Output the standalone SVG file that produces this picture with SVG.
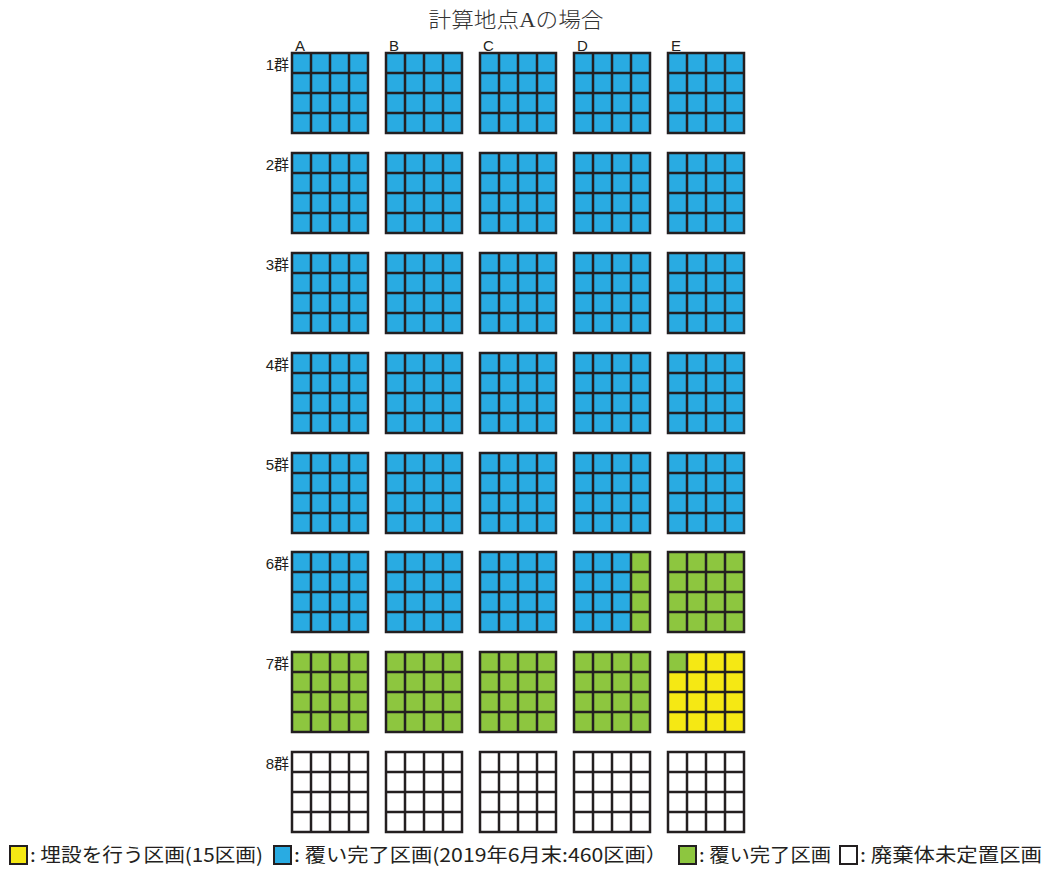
<svg xmlns="http://www.w3.org/2000/svg" xmlns:xlink="http://www.w3.org/1999/xlink" width="1047" height="869" viewBox="0 0 1047 869">
<style>
.b{fill:#29abe2}.g{fill:#8dc63f}.y{fill:#f5e814}.w{fill:#ffffff}
.grid{fill:none;stroke:#231f20;stroke-width:2.5}
.lbl{font-family:"Liberation Sans","Noto Sans CJK JP",sans-serif;font-size:15px;fill:#231f20}
.col{font-family:"Liberation Sans",sans-serif;font-size:15px;fill:#231f20}
.title{font-family:"Liberation Serif","Noto Sans CJK JP",serif;font-size:21px;fill:#333;font-weight:300}
.leg{font-family:"Noto Sans CJK JP",sans-serif;font-size:19px;fill:#231f20}
.sq{stroke:#231f20;stroke-width:2}
</style>
<defs>
<path id="grid" class="grid" d="M0,0H76V80H0Z M19,0V80 M38,0V80 M57,0V80 M0,20H76 M0,40H76 M0,60H76"/>
</defs>
<rect width="1047" height="869" fill="#ffffff"/>
<text class="title" x="516" y="27" text-anchor="middle" textLength="175" lengthAdjust="spacingAndGlyphs">計算地点Aの場合</text>
<g id="col-labels">
<text class="col" x="295" y="51">A</text>
<text class="col" x="389" y="51">B</text>
<text class="col" x="483" y="51">C</text>
<text class="col" x="577" y="51">D</text>
<text class="col" x="671" y="51">E</text>
</g>
<g id="row-labels">
<text class="lbl" x="289" y="70" text-anchor="end">1群</text>
<text class="lbl" x="289" y="170" text-anchor="end">2群</text>
<text class="lbl" x="289" y="270" text-anchor="end">3群</text>
<text class="lbl" x="289" y="370" text-anchor="end">4群</text>
<text class="lbl" x="289" y="470" text-anchor="end">5群</text>
<text class="lbl" x="289" y="569" text-anchor="end">6群</text>
<text class="lbl" x="289" y="669" text-anchor="end">7群</text>
<text class="lbl" x="289" y="769" text-anchor="end">8群</text>
</g>
<g id="r1A" transform="translate(292,53)"><rect class="b" width="76" height="80"/><use href="#grid"/></g>
<g id="r1B" transform="translate(386,53)"><rect class="b" width="76" height="80"/><use href="#grid"/></g>
<g id="r1C" transform="translate(480,53)"><rect class="b" width="76" height="80"/><use href="#grid"/></g>
<g id="r1D" transform="translate(574,53)"><rect class="b" width="76" height="80"/><use href="#grid"/></g>
<g id="r1E" transform="translate(668,53)"><rect class="b" width="76" height="80"/><use href="#grid"/></g>
<g id="r2A" transform="translate(292,153)"><rect class="b" width="76" height="80"/><use href="#grid"/></g>
<g id="r2B" transform="translate(386,153)"><rect class="b" width="76" height="80"/><use href="#grid"/></g>
<g id="r2C" transform="translate(480,153)"><rect class="b" width="76" height="80"/><use href="#grid"/></g>
<g id="r2D" transform="translate(574,153)"><rect class="b" width="76" height="80"/><use href="#grid"/></g>
<g id="r2E" transform="translate(668,153)"><rect class="b" width="76" height="80"/><use href="#grid"/></g>
<g id="r3A" transform="translate(292,253)"><rect class="b" width="76" height="80"/><use href="#grid"/></g>
<g id="r3B" transform="translate(386,253)"><rect class="b" width="76" height="80"/><use href="#grid"/></g>
<g id="r3C" transform="translate(480,253)"><rect class="b" width="76" height="80"/><use href="#grid"/></g>
<g id="r3D" transform="translate(574,253)"><rect class="b" width="76" height="80"/><use href="#grid"/></g>
<g id="r3E" transform="translate(668,253)"><rect class="b" width="76" height="80"/><use href="#grid"/></g>
<g id="r4A" transform="translate(292,353)"><rect class="b" width="76" height="80"/><use href="#grid"/></g>
<g id="r4B" transform="translate(386,353)"><rect class="b" width="76" height="80"/><use href="#grid"/></g>
<g id="r4C" transform="translate(480,353)"><rect class="b" width="76" height="80"/><use href="#grid"/></g>
<g id="r4D" transform="translate(574,353)"><rect class="b" width="76" height="80"/><use href="#grid"/></g>
<g id="r4E" transform="translate(668,353)"><rect class="b" width="76" height="80"/><use href="#grid"/></g>
<g id="r5A" transform="translate(292,453)"><rect class="b" width="76" height="80"/><use href="#grid"/></g>
<g id="r5B" transform="translate(386,453)"><rect class="b" width="76" height="80"/><use href="#grid"/></g>
<g id="r5C" transform="translate(480,453)"><rect class="b" width="76" height="80"/><use href="#grid"/></g>
<g id="r5D" transform="translate(574,453)"><rect class="b" width="76" height="80"/><use href="#grid"/></g>
<g id="r5E" transform="translate(668,453)"><rect class="b" width="76" height="80"/><use href="#grid"/></g>
<g id="r6A" transform="translate(292,552)"><rect class="b" width="76" height="80"/><use href="#grid"/></g>
<g id="r6B" transform="translate(386,552)"><rect class="b" width="76" height="80"/><use href="#grid"/></g>
<g id="r6C" transform="translate(480,552)"><rect class="b" width="76" height="80"/><use href="#grid"/></g>
<g id="r6D" transform="translate(574,552)"><rect class="b" width="76" height="80"/><rect class="g" x="57" width="19" height="80"/><use href="#grid"/></g>
<g id="r6E" transform="translate(668,552)"><rect class="g" width="76" height="80"/><use href="#grid"/></g>
<g id="r7A" transform="translate(292,652)"><rect class="g" width="76" height="80"/><use href="#grid"/></g>
<g id="r7B" transform="translate(386,652)"><rect class="g" width="76" height="80"/><use href="#grid"/></g>
<g id="r7C" transform="translate(480,652)"><rect class="g" width="76" height="80"/><use href="#grid"/></g>
<g id="r7D" transform="translate(574,652)"><rect class="g" width="76" height="80"/><use href="#grid"/></g>
<g id="r7E" transform="translate(668,652)"><rect class="y" width="76" height="80"/><rect class="g" width="19" height="20"/><use href="#grid"/></g>
<g id="r8A" transform="translate(292,752)"><rect class="w" width="76" height="80"/><use href="#grid"/></g>
<g id="r8B" transform="translate(386,752)"><rect class="w" width="76" height="80"/><use href="#grid"/></g>
<g id="r8C" transform="translate(480,752)"><rect class="w" width="76" height="80"/><use href="#grid"/></g>
<g id="r8D" transform="translate(574,752)"><rect class="w" width="76" height="80"/><use href="#grid"/></g>
<g id="r8E" transform="translate(668,752)"><rect class="w" width="76" height="80"/><use href="#grid"/></g>
<g id="legend">
<rect class="sq y" x="10" y="846" width="17" height="18"/>
<text class="leg" x="30" y="862" textLength="233" lengthAdjust="spacingAndGlyphs">: 埋設を行う区画(15区画)</text>
<rect class="sq b" x="274" y="846" width="17" height="18"/>
<text class="leg" x="294" y="862" textLength="373" lengthAdjust="spacingAndGlyphs">: 覆い完了区画(2019年6月末:460区画）</text>
<rect class="sq g" x="679" y="846" width="17" height="18"/>
<text class="leg" x="699" y="862" textLength="132" lengthAdjust="spacingAndGlyphs">: 覆い完了区画</text>
<rect class="sq w" x="840" y="846" width="17" height="18"/>
<text class="leg" x="860" y="862" textLength="182" lengthAdjust="spacingAndGlyphs">: 廃棄体未定置区画</text>
</g>
</svg>
